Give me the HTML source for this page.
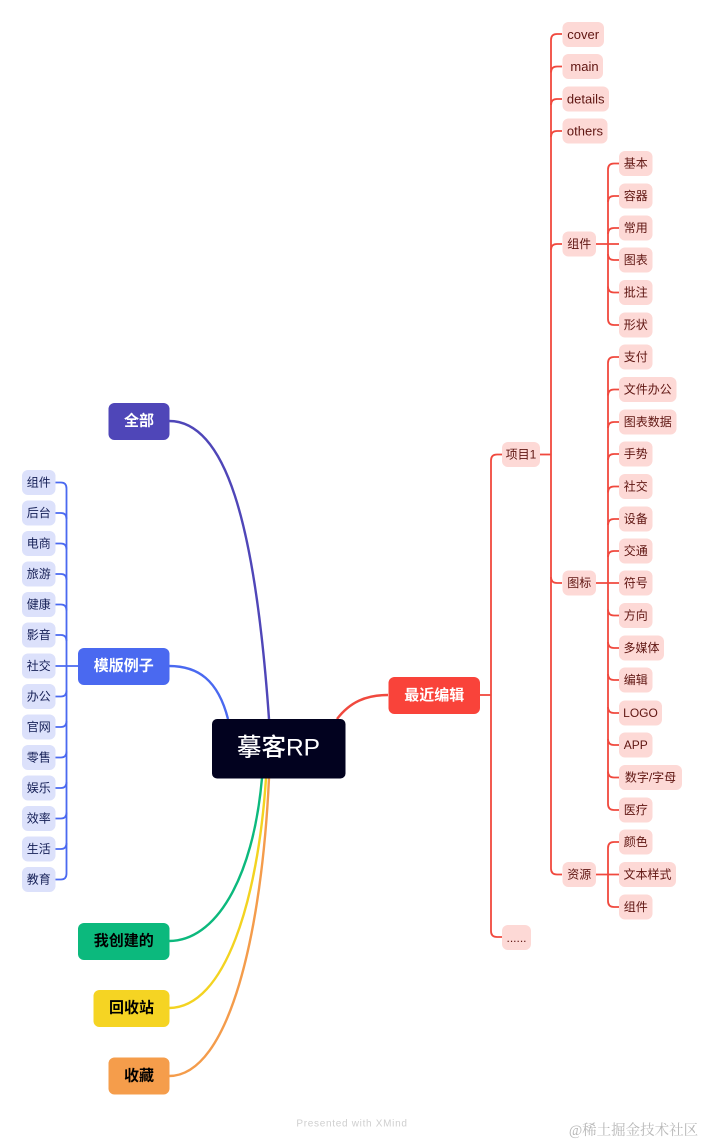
<!DOCTYPE html>
<html><head><meta charset="utf-8"><style>
html,body{margin:0;padding:0;background:#fff;width:704px;height:1146px;overflow:hidden}
svg{display:block;filter:blur(.3px)}
text{font-family:"Liberation Sans","Noto Sans CJK SC",sans-serif;text-anchor:middle;dominant-baseline:central}
.r rect{fill:#fdd9d6;rx:6px}
.r text{font-size:12px;fill:#5f1511}
.r text.en{font-size:13px}
.b rect{fill:#dce1fb;rx:6px}
.b text{font-size:12px;fill:#141e55}
.t rect{rx:6px}
.t text{font-size:15px;font-weight:bold}
.lr{fill:none;stroke:#f0493e;stroke-width:1.8}
.lb{fill:none;stroke:#4a69f0;stroke-width:1.8}
</style></head><body>
<svg width="704" height="1146" viewBox="0 0 704 1146" xmlns="http://www.w3.org/2000/svg">
<!-- main curves -->
<g fill="none" stroke-width="2.4">
<path d="M169 421C225 421 255 520 269 719" stroke="#4f46b8"/>
<path d="M169 666C198 666 218 680 228 719" stroke="#4a69f0"/>
<path d="M169 941C215 941 253 880 262 778" stroke="#0cb97d"/>
<path d="M169 1008C225 1008 258 900 266 778" stroke="#f3d321"/>
<path d="M169 1076C230 1076 262 930 269 778" stroke="#f49c4b"/>
<path d="M337 719C350 702 366 695 388 695" stroke="#f0493e"/>
</g>
<!-- red connectors -->
<g class="lr">
<path d="M480 695H491"/>
<path d="M502 454.500H497Q491 454.500 491 460.500V931Q491 937 497 937H502"/>
<path d="M540 454.500H551"/>
<path d="M562 34H557Q551 34 551 40V868.500Q551 874.500 557 874.500H562"/>
<path d="M562 66.500H557Q551 66.500 551 72.500"/>
<path d="M562 99H557Q551 99 551 105"/>
<path d="M562 131H557Q551 131 551 137"/>
<path d="M562 244H557Q551 244 551 250"/>
<path d="M562 583H557Q551 583 551 577"/>
<path d="M596 244H619"/>
<path d="M619 163.500H614Q608 163.500 608 169.500V319Q608 325 614 325H619"/>
<path d="M619 196H614Q608 196 608 202"/>
<path d="M619 228H614Q608 228 608 234"/>
<path d="M619 260H614Q608 260 608 254"/>
<path d="M619 292.500H614Q608 292.500 608 286.500"/>
<path d="M596 583H619"/>
<path d="M619 357H614Q608 357 608 363V804Q608 810 614 810H619"/>
<path d="M619 389.500H614Q608 389.500 608 395.500"/>
<path d="M619 422H614Q608 422 608 428"/>
<path d="M619 454H614Q608 454 608 460"/>
<path d="M619 486.500H614Q608 486.500 608 492.500"/>
<path d="M619 519H614Q608 519 608 525"/>
<path d="M619 551H614Q608 551 608 557"/>
<path d="M619 615.500H614Q608 615.500 608 609.500"/>
<path d="M619 648H614Q608 648 608 642"/>
<path d="M619 680H614Q608 680 608 674"/>
<path d="M619 713H614Q608 713 608 707"/>
<path d="M619 745H614Q608 745 608 739"/>
<path d="M619 777.500H614Q608 777.500 608 771.500"/>
<path d="M596 874.500H619"/>
<path d="M619 842H614Q608 842 608 848V901Q608 907 614 907H619"/>
</g>
<!-- blue connectors -->
<g class="lb">
<path d="M78 666H55"/>
<path d="M55 482.500H61Q66.500 482.500 66.500 488.500V873.500Q66.500 879.500 61 879.500H55"/>
<path d="M55 513H61Q66.500 513 66.500 519"/>
<path d="M55 543.500H61Q66.500 543.500 66.500 549.500"/>
<path d="M55 574H61Q66.500 574 66.500 580"/>
<path d="M55 604.500H61Q66.500 604.500 66.500 610.500"/>
<path d="M55 635H61Q66.500 635 66.500 641"/>
<path d="M55 696.500H61Q66.500 696.500 66.500 690.500"/>
<path d="M55 727H61Q66.500 727 66.500 721"/>
<path d="M55 757.500H61Q66.500 757.500 66.500 751.500"/>
<path d="M55 788H61Q66.500 788 66.500 782"/>
<path d="M55 818.500H61Q66.500 818.500 66.500 812.500"/>
<path d="M55 849H61Q66.500 849 66.500 843"/>
</g>
<!-- central -->
<rect x="212" y="719" width="133.500" height="59.500" rx="5" fill="#02021f"/>
<text x="278.500" y="748" font-size="24.500" font-weight="500" fill="#fff">摹客RP</text>
<!-- main topics -->
<g class="t">
<rect x="108.500" y="403" width="61" height="37" fill="#4f46b8"/><text x="139" y="421" fill="#fff">全部</text>
<rect x="78" y="648" width="91.500" height="37" fill="#4a69f0"/><text x="123.700" y="666" fill="#fff">模版例子</text>
<rect x="388.500" y="677" width="91.500" height="37" fill="#f9433a"/><text x="434.200" y="695.500" fill="#fff">最近编辑</text>
<rect x="78" y="923" width="91.500" height="37" fill="#0cb97d"/><text x="123.700" y="941" fill="#000">我创建的</text>
<rect x="93.500" y="990" width="76" height="37" fill="#f5d423"/><text x="131.500" y="1008" fill="#000">回收站</text>
<rect x="108.500" y="1057.500" width="61" height="37" fill="#f59d4b"/><text x="139" y="1076" fill="#000">收藏</text>
</g>
<!-- blue leaves -->
<g class="b">
<rect x="22" y="470" width="33.500" height="25"/><text x="38.700" y="482.500">组件</text>
<rect x="22" y="500.500" width="33.500" height="25"/><text x="38.700" y="513">后台</text>
<rect x="22" y="531" width="33.500" height="25"/><text x="38.700" y="543.500">电商</text>
<rect x="22" y="561.500" width="33.500" height="25"/><text x="38.700" y="574">旅游</text>
<rect x="22" y="592" width="33.500" height="25"/><text x="38.700" y="604.500">健康</text>
<rect x="22" y="622.500" width="33.500" height="25"/><text x="38.700" y="635">影音</text>
<rect x="22" y="653.500" width="33.500" height="25"/><text x="38.700" y="666">社交</text>
<rect x="22" y="684" width="33.500" height="25"/><text x="38.700" y="696.500">办公</text>
<rect x="22" y="714.500" width="33.500" height="25"/><text x="38.700" y="727">官网</text>
<rect x="22" y="745" width="33.500" height="25"/><text x="38.700" y="757.500">零售</text>
<rect x="22" y="775.500" width="33.500" height="25"/><text x="38.700" y="788">娱乐</text>
<rect x="22" y="806" width="33.500" height="25"/><text x="38.700" y="818.500">效率</text>
<rect x="22" y="836.500" width="33.500" height="25"/><text x="38.700" y="849">生活</text>
<rect x="22" y="867" width="33.500" height="25"/><text x="38.700" y="879.500">教育</text>
</g>
<!-- red nodes -->
<g class="r">
<rect x="502" y="442" width="38" height="25"/><text x="521" y="454.500">项目1</text>
<rect x="502" y="925" width="29" height="25"/><text x="516.500" y="938" fill="#8a5a57">......</text>
<rect x="562.500" y="22" width="41.500" height="25"/><text class="en" x="583.200" y="34.500">cover</text>
<rect x="562.500" y="54" width="40.500" height="25"/><text class="en" x="584.500" y="66.500">main</text>
<rect x="562.500" y="86.500" width="46.500" height="25"/><text class="en" x="585.700" y="99">details</text>
<rect x="562.500" y="118.500" width="45" height="25"/><text class="en" x="585" y="131">others</text>
<rect x="562.500" y="231.500" width="33.500" height="25"/><text x="579.200" y="244">组件</text>
<rect x="562.500" y="570.500" width="33.500" height="25"/><text x="579.200" y="583">图标</text>
<rect x="562.500" y="862" width="33.500" height="25"/><text x="579.200" y="874.500">资源</text>
<rect x="619" y="151" width="33.500" height="25"/><text x="635.700" y="163.500">基本</text>
<rect x="619" y="183.500" width="33.500" height="25"/><text x="635.700" y="196">容器</text>
<rect x="619" y="215.500" width="33.500" height="25"/><text x="635.700" y="228">常用</text>
<rect x="619" y="247.500" width="33.500" height="25"/><text x="635.700" y="260">图表</text>
<rect x="619" y="280" width="33.500" height="25"/><text x="635.700" y="292.500">批注</text>
<rect x="619" y="312.500" width="33.500" height="25"/><text x="635.700" y="325">形状</text>
<rect x="619" y="344.500" width="33.500" height="25"/><text x="635.700" y="357">支付</text>
<rect x="619" y="377" width="57.500" height="25"/><text x="647.700" y="389.500">文件办公</text>
<rect x="619" y="409.500" width="57.500" height="25"/><text x="647.700" y="422">图表数据</text>
<rect x="619" y="441.500" width="33.500" height="25"/><text x="635.700" y="454">手势</text>
<rect x="619" y="474" width="33.500" height="25"/><text x="635.700" y="486.500">社交</text>
<rect x="619" y="506.500" width="33.500" height="25"/><text x="635.700" y="519">设备</text>
<rect x="619" y="538.500" width="33.500" height="25"/><text x="635.700" y="551">交通</text>
<rect x="619" y="570.500" width="33.500" height="25"/><text x="635.700" y="583">符号</text>
<rect x="619" y="603" width="33.500" height="25"/><text x="635.700" y="615.500">方向</text>
<rect x="619" y="635.500" width="45" height="25"/><text x="641.500" y="648">多媒体</text>
<rect x="619" y="667.500" width="33.500" height="25"/><text x="635.700" y="680">编辑</text>
<rect x="619" y="700.500" width="43" height="25"/><text x="640.500" y="713">LOGO</text>
<rect x="619" y="732.500" width="33.500" height="25"/><text x="635.700" y="745">APP</text>
<rect x="619" y="765" width="63" height="25"/><text x="650.500" y="777.500">数字/字母</text>
<rect x="619" y="797.500" width="33.500" height="25"/><text x="635.700" y="810">医疗</text>
<rect x="619" y="829.500" width="33.500" height="25"/><text x="635.700" y="842">颜色</text>
<rect x="619" y="862" width="57" height="25"/><text x="647.500" y="874.500">文本样式</text>
<rect x="619" y="894.500" width="33.500" height="25"/><text x="635.700" y="907">组件</text>
</g>
<text x="352" y="1124" font-size="10" letter-spacing=".7" fill="#cfcfcf">Presented with XMind</text>
<text x="633.500" y="1131" font-size="14.500" fill="#b8b8b8" style="font-family:'Liberation Serif','Noto Serif CJK SC',serif">@稀土掘金技术社区</text>
</svg>
</body></html>
